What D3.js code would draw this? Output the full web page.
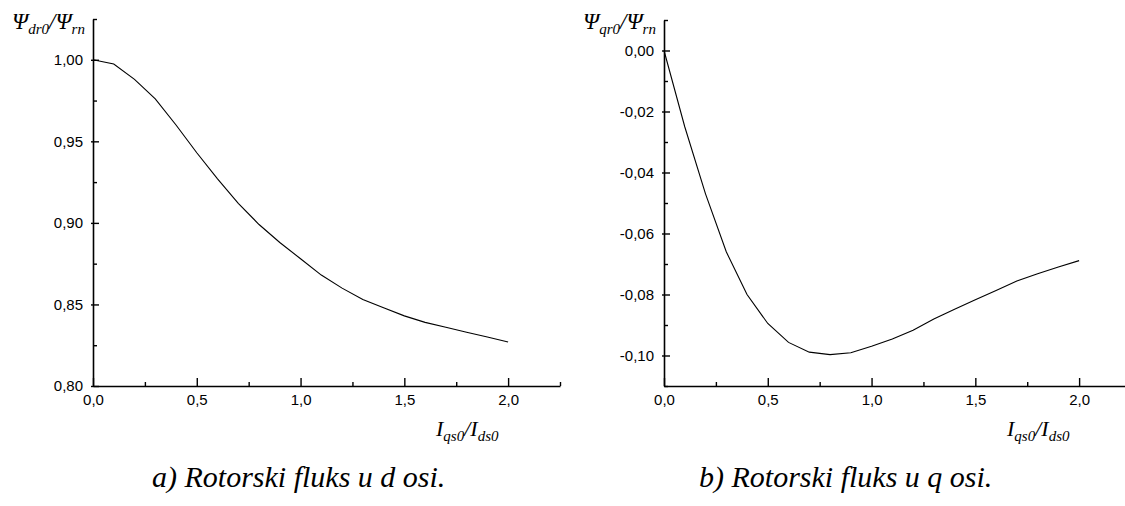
<!DOCTYPE html>
<html>
<head>
<meta charset="utf-8">
<script src="https://cdn.jsdelivr.net/npm/d3@7"></script>
<style>
  body { margin: 0; background: #fff; }
  .axis path, .axis line { stroke: #000; }
  .axis path { stroke-width: 1.6px; }
  .axis line { stroke-width: 1.4px; }
  .axis text { font-family: "Liberation Sans", Arial, sans-serif; font-size: 15px; fill: #000; }
  .lbl { font-family: "Liberation Serif", "Times New Roman", "DejaVu Serif", serif; font-style: italic; fill: #000; }
</style>
</head>
<body>
<div id="chart"></div>
<script>
// x values: Iqs0/Ids0
var ratio = [0, 0.1, 0.2, 0.3, 0.4, 0.5, 0.6, 0.7, 0.8, 0.9, 1.0,
             1.1, 1.2, 1.3, 1.4, 1.5, 1.6, 1.7, 1.8, 1.9, 2.0];

// a) Psi_dr0 / Psi_rn
var fluxD = [1.000, 0.9974, 0.988, 0.976, 0.960, 0.943, 0.927, 0.912, 0.899, 0.888, 0.878,
             0.868, 0.860, 0.853, 0.848, 0.843, 0.839, 0.836, 0.833, 0.830, 0.827];

// b) Psi_qr0 / Psi_rn
var fluxQ = [0, -0.025, -0.047, -0.066, -0.080, -0.0895, -0.0957, -0.0989, -0.0997, -0.0991, -0.0970,
             -0.0946, -0.0917, -0.0880, -0.0848, -0.0817, -0.0787, -0.0756, -0.0732, -0.0710, -0.0689];

var xTicks = [0, 0.5, 1.0, 1.5, 2.0];
var xMinor = [0.25, 0.75, 1.25, 1.75, 2.25];
var yTicksD = [0.80, 0.85, 0.90, 0.95, 1.00];
var yMinorD = [0.825, 0.875, 0.925, 0.975, 1.025];
var yTicksQ = [-0.10, -0.08, -0.06, -0.04, -0.02, 0.00];
var yMinorQ = [-0.11, -0.09, -0.07, -0.05, -0.03, -0.01, 0.01];

var svg = d3.select("#chart").append("svg")
  .attr("width", 1125)
  .attr("height", 506);

var comma = function(f) {
  return function(d) { return f(d).replace(".", ",").replace("\u2212", "-"); };
};

function drawPanel(p) {
  var g = svg.append("g");

  var x = d3.scaleLinear().domain([0, 2.25]).range([p.left, p.left + 467]);
  var y = d3.scaleLinear().domain(p.yDomain).range([386, p.top]);

  // minor ticks first (no labels)
  g.append("g").attr("class", "axis")
    .attr("transform", "translate(0,386)")
    .call(d3.axisBottom(x).tickValues(xMinor).tickSize(-4).tickFormat(""))
    .select(".domain").remove();
  g.append("g").attr("class", "axis")
    .attr("transform", "translate(" + p.left + ",0)")
    .call(d3.axisLeft(y).tickValues(p.yMinor).tickSize(-4).tickFormat(""))
    .select(".domain").remove();

  // x-axis
  g.append("g").attr("class", "axis")
    .attr("transform", "translate(0,386)")
    .call(d3.axisBottom(x).tickValues(xTicks).tickSize(-8).tickSizeOuter(0)
      .tickPadding(8).tickFormat(comma(d3.format(".1f"))));

  // y-axis
  var gy = g.append("g").attr("class", "axis")
    .attr("transform", "translate(" + p.left + ",0)")
    .call(d3.axisLeft(y).tickValues(p.yTicks).tickSize(-6).tickSizeOuter(0)
      .tickPadding(10).tickFormat(comma(d3.format(".2f"))));
  gy.selectAll(".tick line").attr("x1", -2);

  // curve
  var line = d3.line()
    .x(function(d, i) { return x(ratio[i]); })
    .y(function(d) { return y(d); });
  g.append("path")
    .datum(p.values)
    .attr("fill", "none")
    .attr("stroke", "#000")
    .attr("stroke-width", 1.1)
    .attr("d", line);

  // y label
  var yl = g.append("text").attr("class", "lbl")
    .attr("x", p.left - 81).attr("y", 29).attr("font-size", "23px");
  yl.append("tspan").text("\u03A8");
  yl.append("tspan").attr("font-size", "15px").attr("dy", 5).text(p.sub);
  yl.append("tspan").attr("dy", -5).text("/\u03A8");
  yl.append("tspan").attr("font-size", "15px").attr("dy", 5).text("rn");

  // x label
  var xl = g.append("text").attr("class", "lbl")
    .attr("x", p.left + 343).attr("y", 436).attr("font-size", "22px");
  xl.append("tspan").text("I");
  xl.append("tspan").attr("font-size", "15px").attr("dy", 5).text("qs0");
  xl.append("tspan").attr("dy", -5).text("/I");
  xl.append("tspan").attr("font-size", "15px").attr("dy", 5).text("ds0");

  // caption
  g.append("text").attr("class", "lbl")
    .attr("x", p.capX).attr("y", 487).attr("font-size", "30px")
    .text(p.caption);
}

drawPanel({
  left: 93, top: 19, yDomain: [0.80, 1.025],
  yTicks: yTicksD, yMinor: yMinorD, values: fluxD,
  sub: "dr0", caption: "a) Rotorski fluks u d osi.", capX: 152
});

drawPanel({
  left: 664, top: 20, yDomain: [-0.11, 0.01],
  yTicks: yTicksQ, yMinor: yMinorQ, values: fluxQ,
  sub: "qr0", caption: "b) Rotorski fluks u q osi.", capX: 699
});
</script>
</body>
</html>
